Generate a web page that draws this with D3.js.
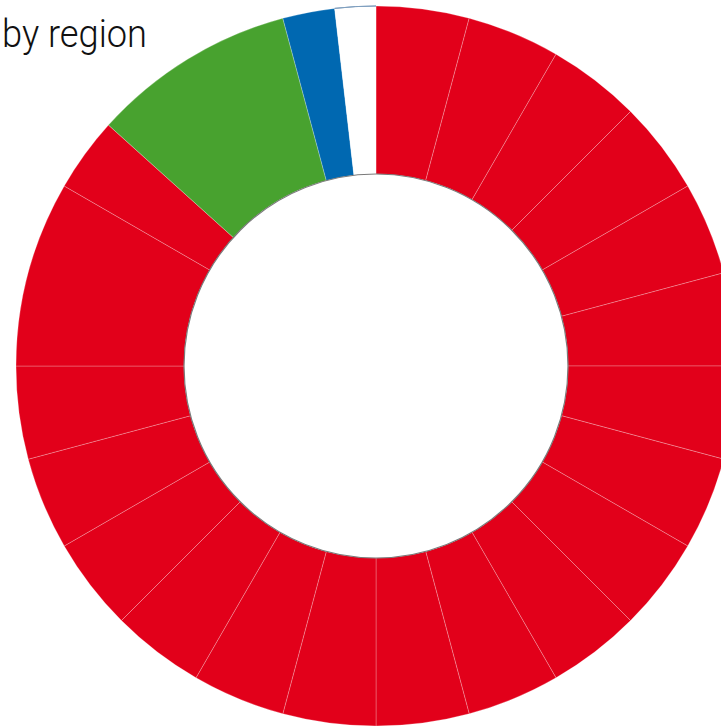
<!DOCTYPE html>
<html>
<head>
<meta charset="utf-8">
<script src="https://cdn.jsdelivr.net/npm/d3@7"></script>
<style>
  html, body { margin: 0; padding: 0; background: #fff; overflow: hidden; }
  svg { display: block; }
</style>
</head>
<body>
<svg id="chart" width="721" height="727"></svg>
<script>
// Shares per segment, clockwise from 12 o'clock
const redShares = [15, 15, 15, 15, 15, 15, 15, 15, 15, 15, 15, 15, 15, 15, 15, 15, 15, 15, 30, 12];
const greenShares = [33];
const blueShares = [8.4];
const whiteShares = [6.6];

const groupColors = { red: "#e2001a", green: "#48a22f", blue: "#0068b1", white: "#ffffff" };
const title = "by region";

const segments = [
  ...redShares.map(v => ({ group: "red", value: v })),
  ...greenShares.map(v => ({ group: "green", value: v })),
  ...blueShares.map(v => ({ group: "blue", value: v })),
  ...whiteShares.map(v => ({ group: "white", value: v }))
];

const svg = d3.select("#chart");
const cx = 376, cy = 366;
const outerR = 360, innerR = 192;

const pie = d3.pie().value(d => d.value).sort(null).startAngle(0).endAngle(2 * Math.PI);
const arc = d3.arc().innerRadius(innerR).outerRadius(outerR);

const g = svg.append("g").attr("transform", `translate(${cx},${cy})`);

const arcs = pie(segments);

g.selectAll("path.seg")
  .data(arcs)
  .join("path")
  .attr("class", "seg")
  .attr("d", arc)
  .attr("fill", d => groupColors[d.data.group])
  .attr("stroke", "rgba(255,255,255,0.35)")
  .attr("stroke-width", 0.7);

// thin outline along the outer edge of the white segment
const outerEdge = d3.arc().innerRadius(outerR).outerRadius(outerR);
g.selectAll("path.edge")
  .data(arcs.filter(d => d.data.group === "white"))
  .join("path")
  .attr("class", "edge")
  .attr("d", outerEdge)
  .attr("fill", "none")
  .attr("stroke", "#7f9fbf")
  .attr("stroke-width", 1);

// grey rim around the hole
g.append("circle")
  .attr("r", innerR)
  .attr("fill", "#fff")
  .attr("stroke", "#7a7a7a")
  .attr("stroke-width", 1.2);

svg.append("text")
  .attr("x", 2)
  .attr("y", 46.5)
  .attr("font-family", "Roboto, 'Liberation Sans', sans-serif")
  .attr("font-weight", 300)
  .attr("font-size", 38)
  .attr("fill", "#111")
  .attr("textLength", 145)
  .attr("lengthAdjust", "spacingAndGlyphs")
  .text(title);
</script>
</body>
</html>
